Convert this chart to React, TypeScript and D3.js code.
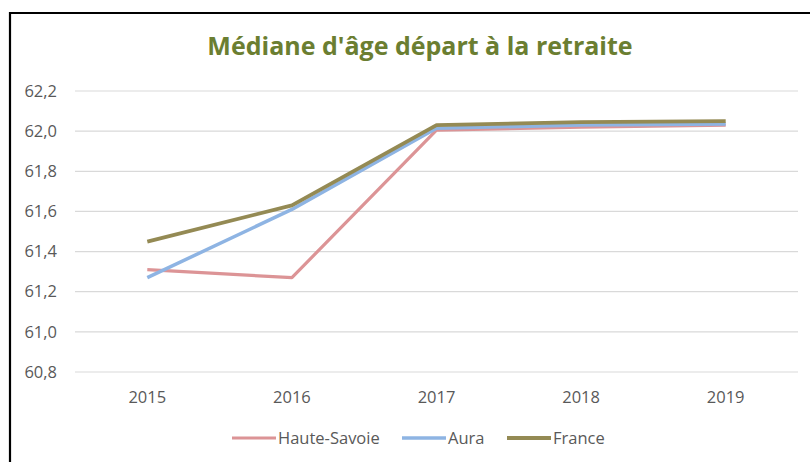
import React, { useEffect, useRef } from 'react';
import * as d3 from 'd3';

// données
const years = ['2015', '2016', '2017', '2018', '2019'];
const hauteSavoie = [61.31, 61.27, 62.005, 62.02, 62.03];
const aura = [61.27, 61.61, 62.015, 62.03, 62.035];
const france = [61.45, 61.63, 62.03, 62.045, 62.05];
const yTicks = [60.8, 61.0, 61.2, 61.4, 61.6, 61.8, 62.0, 62.2];

const series = [
  { name: 'Haute-Savoie', values: hauteSavoie, color: '#dc9496', width: 3.2 },
  { name: 'Aura', values: aura, color: '#8eb4e3', width: 3.5 },
  { name: 'France', values: france, color: '#948a54', width: 3.8 },
];

const App = () => {
  const ref = useRef<SVGSVGElement>(null);

  useEffect(() => {
    const svg = d3.select(ref.current);
    svg.selectAll('*').remove();

    const font = '"Open Sans", "Liberation Sans", sans-serif';
    const left = 75;
    const right = 798;
    const top = 91;
    const bottom = 372;

    // cadre noir (haut et gauche visibles)
    svg.append('path')
      .attr('d', 'M10,470 L10,13 L820,13')
      .attr('fill', 'none')
      .attr('stroke', '#000')
      .attr('stroke-width', 2.2);

    // titre
    svg.append('text')
      .attr('x', 420)
      .attr('y', 55)
      .attr('text-anchor', 'middle')
      .attr('font-family', font)
      .attr('font-weight', 'bold')
      .attr('font-size', 25)
      .attr('fill', '#6b7e31')
      .text("Médiane d'âge départ à la retraite");

    // échelles
    const x = d3.scaleBand().domain(years).range([left, right]);
    const y = d3.scaleLinear().domain([60.8, 62.2]).range([bottom, top]);

    // grille
    svg.append('g')
      .selectAll('line')
      .data(yTicks)
      .enter()
      .append('line')
      .attr('x1', left)
      .attr('x2', right)
      .attr('y1', d => y(d))
      .attr('y2', d => y(d))
      .attr('stroke', '#d9d9d9')
      .attr('stroke-width', 1.2);

    // étiquettes axe Y
    svg.append('g')
      .selectAll('text')
      .data(yTicks)
      .enter()
      .append('text')
      .attr('x', 57)
      .attr('y', d => y(d))
      .attr('dy', '0.35em')
      .attr('text-anchor', 'end')
      .attr('font-family', font)
      .attr('font-size', 16.5)
      .attr('fill', '#595959')
      .text(d => d.toFixed(1).replace('.', ','));

    // étiquettes axe X
    svg.append('g')
      .selectAll('text')
      .data(years)
      .enter()
      .append('text')
      .attr('x', d => (x(d) as number) + x.bandwidth() / 2)
      .attr('y', 397)
      .attr('dy', '0.35em')
      .attr('text-anchor', 'middle')
      .attr('font-family', font)
      .attr('font-size', 16.5)
      .attr('fill', '#595959')
      .text(d => d);

    // lignes
    const line = d3.line<number>()
      .x((_, i) => (x(years[i]) as number) + x.bandwidth() / 2)
      .y(d => y(d));

    series.forEach(s => {
      svg.append('path')
        .attr('d', line(s.values))
        .attr('fill', 'none')
        .attr('stroke', s.color)
        .attr('stroke-width', s.width)
        .attr('stroke-linejoin', 'round');
    });

    // légende
    const legendX = [232, 402, 507];
    series.forEach((s, i) => {
      const g = svg.append('g').attr('transform', `translate(${legendX[i]}, 438)`);
      g.append('line')
        .attr('x1', 0)
        .attr('x2', 44)
        .attr('stroke', s.color)
        .attr('stroke-width', s.width);
      g.append('text')
        .attr('x', 46)
        .attr('dy', '0.35em')
        .attr('font-family', font)
        .attr('font-size', 16.5)
        .attr('fill', '#595959')
        .text(s.name);
    });
  }, []);

  return (
    <svg
      ref={ref}
      width={810}
      height={462}
      style={{ position: 'absolute', left: 0, top: 0, background: '#fff' }}
    />
  );
};

export default App;
